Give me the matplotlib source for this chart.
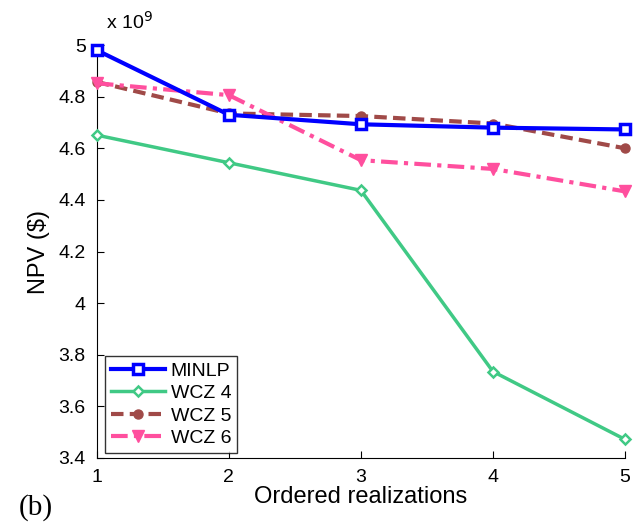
import numpy as np
import matplotlib.pyplot as plt

plt.rcParams['font.family'] = ['Liberation Sans', 'DejaVu Sans']

# data (NPV in units of 1e9 $)
realizations = [1, 2, 3, 4, 5]
minlp = [4.98, 4.73, 4.693, 4.68, 4.673]
wcz4 = [4.651, 4.544, 4.437, 3.735, 3.472]
wcz5 = [4.857, 4.735, 4.725, 4.696, 4.60]
wcz6 = [4.852, 4.806, 4.554, 4.52, 4.433]
scale = 1e9

fig = plt.figure(figsize=(6.41, 5.24), dpi=100)
ax = fig.add_axes([0.151, 0.126, 0.824, 0.788])

x = np.array(realizations)
ax.plot(x, np.array(minlp)*scale, color='#0000ff', lw=3, marker='s', ms=6.5,
        mfc='white', mec='#0000ff', mew=2.5, label='MINLP', clip_on=False, zorder=4)
ax.plot(x, np.array(wcz4)*scale, color='#40c985', lw=2.5, marker='D', ms=5,
        mfc='white', mec='#40c985', mew=1.8, label='WCZ 4', clip_on=False, zorder=3)
ax.plot(x, np.array(wcz5)*scale, color='#a04a48', lw=3, ls=(0, (3, 1.5)), marker='o', ms=6.5,
        mfc='#a04a48', mec='#a04a48', label='WCZ 5', clip_on=False, zorder=3)
ax.plot(x, np.array(wcz6)*scale, color='#ff4f9e', lw=3, ls=(0, (4, 1.5, 1, 1.5)), marker='v', ms=9,
        mfc='#ff4f9e', mec='#ff4f9e', label='WCZ 6', clip_on=False, zorder=3)

ax.set_xlim(1, 5)
ax.set_ylim(3.4e9, 5e9)
ax.set_xticks(realizations)
ax.set_yticks(np.arange(3.4, 5.01, 0.2)*scale)
ax.set_yticklabels(['3.4', '3.6', '3.8', '4', '4.2', '4.4', '4.6', '4.8', '5'])
ax.spines['top'].set_visible(False)
ax.spines['right'].set_visible(False)
ax.tick_params(direction='in', labelsize=14, length=5)
ax.tick_params(axis='y', pad=8)
ax.tick_params(axis='x', pad=8)
ax.set_xlabel('Ordered realizations', fontsize=17, labelpad=0)
ax.set_ylabel('NPV ($)', fontsize=17, labelpad=6)
ax.text(0.018, 1.03, r'x 10$^{9}$', transform=ax.transAxes, fontsize=14, ha='left', va='bottom')

leg = ax.legend(loc='lower left', fontsize=14, fancybox=False, edgecolor='black',
                handlelength=2.8, borderpad=0.3, labelspacing=0.25, handletextpad=0.3,
                borderaxespad=0, bbox_to_anchor=(0.015, 0.012))
leg.get_frame().set_linewidth(1)

fig.text(0.03, 0.005, '(b)', fontsize=21, fontfamily='Liberation Serif', ha='left', va='bottom')

fig.savefig('out.png', dpi=100)
